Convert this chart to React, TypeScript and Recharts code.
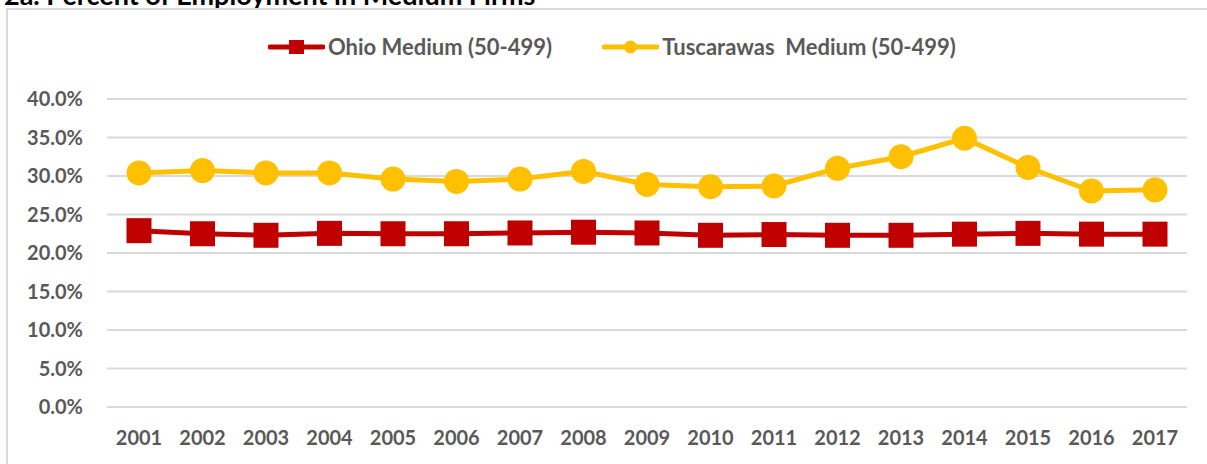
import React from 'react';
import { LineChart, Line, XAxis, YAxis, CartesianGrid } from 'recharts';

const years = ['2001', '2002', '2003', '2004', '2005', '2006', '2007', '2008', '2009',
  '2010', '2011', '2012', '2013', '2014', '2015', '2016', '2017'];

// percent of employment in medium firms (50-499 employees)
const ohioMedium = [22.9, 22.5, 22.3, 22.55, 22.5, 22.5, 22.6, 22.7, 22.6,
  22.3, 22.4, 22.3, 22.3, 22.45, 22.55, 22.45, 22.45];
const tuscMedium = [30.4, 30.7, 30.4, 30.4, 29.6, 29.3, 29.6, 30.6, 28.9,
  28.6, 28.7, 31.0, 32.5, 34.9, 31.1, 28.05, 28.2];

const yTicks = [0, 5, 10, 15, 20, 25, 30, 35, 40];

const OHIO_LABEL = 'Ohio Medium (50-499)';
const TUSC_LABEL = 'Tuscarawas\u00a0 Medium (50-499)';

const RED = '#C00000';
const GOLD = '#FFC000';
const TEXT = '#595959';
const FONT = 'Lato, "Open Sans", sans-serif';

const data = years.map((year, i) => ({
  year,
  ohio: ohioMedium[i],
  tusc: tuscMedium[i],
}));

const SquareDot = (props: any) => {
  const { cx, cy, index } = props;
  if (cx == null || cy == null) return null;
  return <rect key={`sq-${index}`} x={cx - 12.5} y={cy - 12.5} width={25} height={25} fill={RED} />;
};

const LegendItem = ({ color, square, label }: { color: string; square: boolean; label: string }) => (
  <div style={{ display: 'flex', alignItems: 'center' }}>
    <svg width={57} height={16} style={{ marginRight: 3 }}>
      <line x1={2} y1={8} x2={55} y2={8} stroke={color} strokeWidth={5} strokeLinecap="round" />
      {square
        ? <rect x={21} y={1} width={15} height={14} fill={color} />
        : <circle cx={28.5} cy={8} r={6.5} fill={color} />}
    </svg>
    <span>{label}</span>
  </div>
);

export default function App() {
  return (
    <div style={{ position: 'absolute', top: 0, left: 0, width: 1207, height: 464, overflow: 'hidden', background: '#fff' }}>
      <div style={{
        position: 'absolute', top: -19, left: 4, fontFamily: FONT, fontWeight: 700,
        fontSize: 27, lineHeight: '27px', color: '#000', whiteSpace: 'nowrap',
      }}>
        2a. Percent of Employment in Medium Firms
      </div>
      <div style={{
        position: 'absolute', left: 6, top: 8, width: 1220, height: 480,
        border: '2px solid #d9d9d9', boxSizing: 'border-box',
      }} />
      <div style={{
        position: 'absolute', top: 36, left: 268, display: 'flex', gap: 50,
        fontFamily: FONT, fontWeight: 700, fontSize: 22, lineHeight: '22px', color: TEXT, whiteSpace: 'pre',
      }}>
        <LegendItem color={RED} square label={OHIO_LABEL} />
        <LegendItem color={GOLD} square={false} label={TUSC_LABEL} />
      </div>
      <div style={{ position: 'absolute', top: 0, left: 0 }}>
        <LineChart width={1207} height={464} data={data} margin={{ top: 99, right: 20, bottom: 27, left: 0 }}>
          <CartesianGrid vertical={false} stroke="#d9d9d9" strokeWidth={2} />
          <XAxis
            dataKey="year"
            height={30}
            padding={{ left: 32, right: 32 }}
            axisLine={false}
            tickLine={false}
            tickSize={0}
            tickMargin={24}
            interval={0}
            tick={{ fill: TEXT, fontSize: 20, fontWeight: 700, fontFamily: FONT }}
          />
          <YAxis
            width={107}
            domain={[0, 40]}
            ticks={yTicks}
            axisLine={false}
            tickLine={false}
            tickSize={0}
            tickMargin={24}
            tickFormatter={(v: number) => `${v.toFixed(1)}%`}
            tick={{ fill: TEXT, fontSize: 20, fontWeight: 700, fontFamily: FONT }}
          />
          <Line
            type="linear"
            dataKey="ohio"
            stroke={RED}
            strokeWidth={5}
            dot={SquareDot}
            activeDot={false}
            isAnimationActive={false}
          />
          <Line
            type="linear"
            dataKey="tusc"
            stroke={GOLD}
            strokeWidth={5}
            dot={{ r: 12.5, fill: GOLD, stroke: GOLD, strokeWidth: 0 }}
            activeDot={false}
            isAnimationActive={false}
          />
        </LineChart>
      </div>
    </div>
  );
}
